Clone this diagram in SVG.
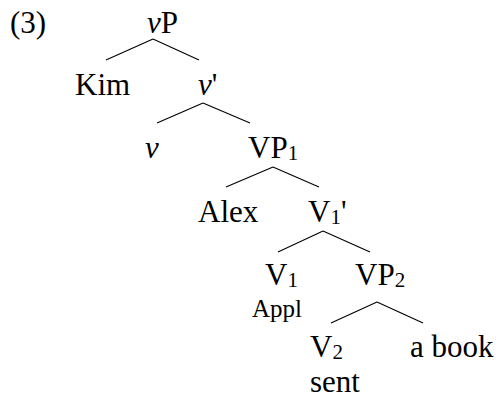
<svg xmlns="http://www.w3.org/2000/svg" width="497" height="399" viewBox="0 0 497 399">
<style>
text{font-family:"Liberation Serif","Times New Roman",serif;font-size:31px;fill:#000}
.it{font-style:italic}
.sub{font-size:21px}
.small{font-size:25px}
#connectors line{stroke:#000;stroke-width:1.1}
</style>
<rect width="497" height="399" fill="#fff"/>
<g id="label"><text x="10" y="33">(3)</text></g>
<g id="connectors">
<line x1="153" y1="39" x2="106" y2="60"/><line x1="153" y1="39" x2="199" y2="60"/>
<line x1="203" y1="103" x2="157" y2="123"/><line x1="203" y1="103" x2="250" y2="123"/>
<line x1="273" y1="167" x2="226" y2="187"/><line x1="273" y1="167" x2="319" y2="187"/>
<line x1="323" y1="231" x2="278" y2="252"/><line x1="323" y1="231" x2="370" y2="252"/>
<line x1="377" y1="302" x2="331" y2="323"/><line x1="377" y1="302" x2="423" y2="323"/>
</g>
<g id="vP"><text x="147" y="33"><tspan class="it">v</tspan>P</text></g>
<g id="Kim"><text x="75" y="95">Kim</text></g>
<g id="vbar"><text x="198" y="95"><tspan class="it">v</tspan>'</text></g>
<g id="v"><text x="145" y="158" class="it">v</text></g>
<g id="VP1"><text x="248" y="158">VP<tspan class="sub" dy="2">1</tspan></text></g>
<g id="Alex"><text x="198" y="222">Alex</text></g>
<g id="V1bar"><text x="308" y="222">V<tspan class="sub" dy="2">1</tspan><tspan dy="-2">'</tspan></text></g>
<g id="V1"><text x="265" y="285">V<tspan class="sub" dy="2">1</tspan></text><text class="small" x="252" y="317">Appl</text></g>
<g id="VP2"><text x="355" y="285">VP<tspan class="sub" dy="2">2</tspan></text></g>
<g id="V2"><text x="310" y="357">V<tspan class="sub" dy="2">2</tspan></text><text x="310" y="392">sent</text></g>
<g id="abook"><text x="410" y="357">a book</text></g>
</svg>
